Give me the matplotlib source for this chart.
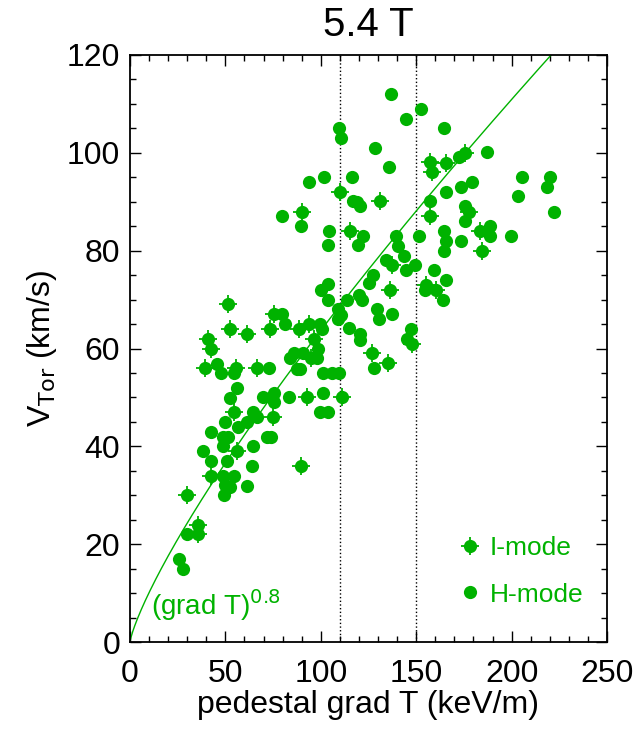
import numpy as np
import matplotlib
matplotlib.use('Agg')
import matplotlib.pyplot as plt
from matplotlib.lines import Line2D
from matplotlib.legend_handler import HandlerTuple

plt.rcParams['font.family'] = ['Liberation Sans', 'DejaVu Sans']

green = '#00b200'

# I-mode points (pedestal grad T [keV/m], V_Tor [km/s])
i_gradT = [110.2, 131.2, 90.3, 115.5, 157.2, 165.6, 158.5, 175.4, 157.4, 183.4,
           184.5, 137.5, 136.5, 147.6, 127.0, 135.4, 155.3, 160.6, 177.8, 51.3,
           40.7, 42.5, 52.4, 61.4, 73.5, 75.5, 88.7, 93.8, 96.3, 94.8,
           39.5, 55.6, 66.4, 92.6, 111.3, 54.6, 75.1, 55.9, 42.5, 89.5,
           29.7, 35.8, 35.8]
i_vtor = [92.0, 90.1, 88.0, 84.0, 98.1, 98.0, 96.0, 100.0, 87.1, 84.0,
          80.0, 77.0, 72.0, 61.0, 59.0, 57.0, 73.0, 72.0, 88.0, 69.0,
          62.0, 60.0, 64.0, 63.0, 64.0, 67.0, 64.0, 65.0, 62.0, 58.0,
          56.0, 56.0, 56.0, 50.0, 50.0, 47.0, 46.0, 39.0, 34.0, 36.0,
          30.0, 24.0, 22.0]

# H-mode points
h_gradT = [109.5, 110.4, 128.4, 93.6, 101.5, 116.4, 116.8, 119.0, 120.5, 79.5,
           89.4, 104.5, 122.3, 103.6, 119.6, 136.6, 152.3, 144.5, 164.6, 135.6,
           172.6, 187.3, 205.3, 220.3, 218.4, 203.2, 222.4, 173.5, 179.4, 165.6,
           157.4, 175.6, 175.6, 188.5, 188.5, 199.5, 164.4, 165.6, 164.4, 173.5,
           151.5, 139.4, 140.6, 143.5, 134.3, 144.5, 149.3, 127.5, 125.4, 129.6,
           130.7, 137.4, 147.5, 145.3, 127.9, 154.5, 159.4, 165.6, 164.3, 99.9,
           103.6, 103.6, 113.6, 120.2, 121.4, 109.2, 110.6, 109.2, 114.6, 120.3,
           120.5, 79.5, 81.4, 99.6, 100.5, 98.7, 84.0, 86.0, 87.4, 89.1,
           90.8, 98.2, 45.6, 47.6, 54.6, 72.7, 101.3, 105.7, 109.7, 56.3,
           52.4, 69.9, 75.3, 75.3, 83.5, 101.3, 99.6, 103.6, 64.6, 66.8,
           61.5, 49.8, 56.6, 42.5, 48.7, 51.5, 72.0, 73.8, 38.4, 48.6,
           64.6, 42.5, 50.7, 63.8, 48.6, 54.5, 49.8, 52.4, 61.5, 49.5,
           29.7, 25.7, 27.6]
h_vtor = [105.1, 103.1, 101.0, 94.0, 95.0, 95.0, 90.1, 90.0, 89.1, 87.0,
          85.0, 84.0, 83.0, 81.1, 81.1, 112.1, 109.0, 107.0, 105.0, 97.1,
          99.1, 100.1, 95.0, 95.0, 93.1, 91.1, 88.0, 93.1, 94.0, 92.0,
          90.1, 89.1, 86.1, 85.1, 83.0, 83.0, 84.0, 82.0, 80.0, 82.0,
          83.0, 83.0, 81.0, 79.0, 78.0, 76.0, 77.0, 75.0, 73.4, 68.1,
          66.0, 67.0, 64.0, 62.0, 56.0, 72.0, 76.0, 74.0, 70.0, 72.0,
          73.1, 70.0, 70.0, 71.0, 70.0, 68.1, 66.8, 66.0, 64.1, 62.9,
          61.8, 67.0, 65.0, 65.0, 64.0, 60.0, 58.0, 59.1, 55.9, 55.9,
          59.1, 58.0, 56.9, 54.9, 54.9, 56.0, 54.9, 54.9, 54.9, 52.0,
          49.9, 50.0, 51.0, 49.0, 50.0, 50.9, 47.0, 47.0, 47.0, 46.0,
          45.0, 45.0, 44.0, 43.0, 42.0, 42.0, 42.0, 42.0, 39.0, 40.0,
          40.0, 37.0, 37.0, 36.0, 34.0, 34.0, 32.1, 31.7, 31.8, 30.0,
          22.0, 17.0, 15.0]

# (grad T)^0.8 scaling curve
coef = 1.6
power = 0.8

ms_dot = 9.5
ms_plus = 13

fig = plt.figure(figsize=(6.39, 7.34), dpi=100)
ax = fig.add_axes([0.2034, 0.1253, 0.7465, 0.7998])

ax.axvline(110, color='k', ls=':', lw=1)
ax.axvline(150, color='k', ls=':', lw=1)

x = np.linspace(0, 250, 500)
ax.plot(x, coef * x**power, color=green, lw=1)

ax.plot(i_gradT, i_vtor, ls='none', marker='+', ms=ms_plus, mew=1.3, color=green)
ax.plot(i_gradT, i_vtor, ls='none', marker='o', ms=ms_dot, mew=0, color=green)
ax.plot(h_gradT, h_vtor, ls='none', marker='o', ms=ms_dot, mew=0, color=green)

ax.text(11, 5.5, r'(grad T)$^{0.8}$', color=green, fontsize=20)

h_plus = Line2D([], [], ls='none', marker='+', ms=ms_plus, mew=1.3, color=green)
h_circ = Line2D([], [], ls='none', marker='o', ms=ms_dot, mew=0, color=green)
leg = ax.legend([(h_plus, h_circ), h_circ], ['I-mode', 'H-mode'],
                handler_map={tuple: HandlerTuple(ndivide=1)},
                loc='lower right', bbox_to_anchor=(1.0, 0.02), frameon=False,
                fontsize=19, labelcolor=green, handlelength=0.9,
                handletextpad=0.3, labelspacing=0.85)

ax.set_xlim(0, 250)
ax.set_ylim(0, 120)
ax.set_xticks([0, 50, 100, 150, 200, 250])
ax.set_xticks(np.arange(0, 251, 10), minor=True)
ax.set_yticks([0, 20, 40, 60, 80, 100, 120])
ax.set_yticks(np.arange(0, 121, 5), minor=True)
ax.tick_params(which='both', direction='in', top=True, right=True, labelsize=23)
ax.tick_params(axis='x', pad=12)
ax.tick_params(axis='y', pad=7)
ax.tick_params(which='major', length=8, width=1)
ax.tick_params(which='minor', length=4.5, width=1)
for s in ax.spines.values():
    s.set_linewidth(1.3)

ax.set_xlabel('pedestal grad T (keV/m)', fontsize=23, labelpad=1)
ax.set_ylabel(r'V$_{\rm Tor}$ (km/s)', fontsize=23, labelpad=6)
ax.set_title('5.4 T', fontsize=29, pad=14)

plt.savefig('out.png', dpi=100)
